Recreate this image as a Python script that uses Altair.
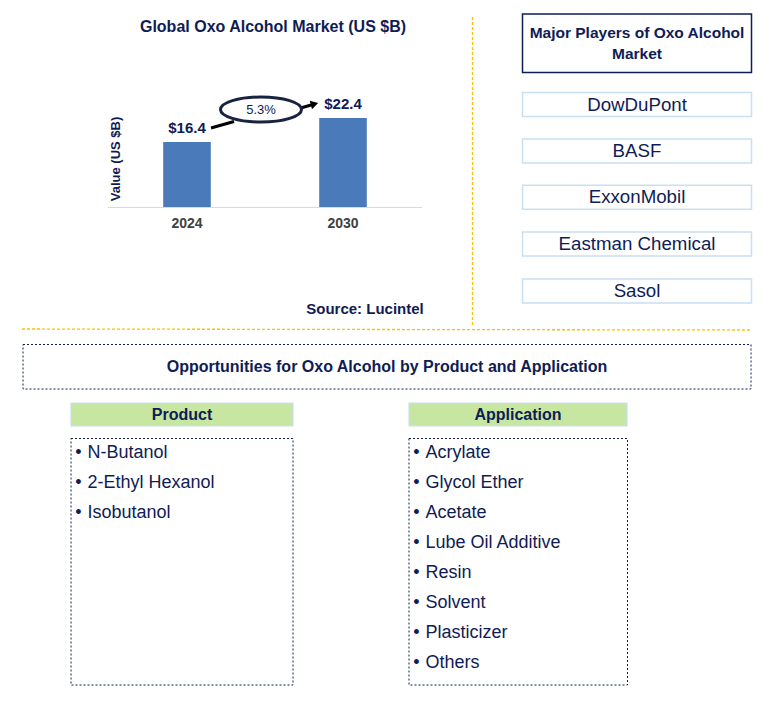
import altair as alt
import pandas as pd

# ---------------- data ----------------
years = ["2024", "2030"]
values = [16.4, 22.4]
value_labels = ["$16.4", "$22.4"]
cagr_label = "5.3%"
chart_title = "Global Oxo Alcohol Market (US $B)"
y_title = "Value (US $B)"
source_text = "Source: Lucintel"
players_title = ["Major Players of Oxo Alcohol", "Market"]
players = ["DowDuPont", "BASF", "ExxonMobil", "Eastman Chemical", "Sasol"]
opp_title = "Opportunities for Oxo Alcohol by Product and Application"
group_titles = ["Product", "Application"]
products = ["N-Butanol", "2-Ethyl Hexanol", "Isobutanol"]
applications = ["Acrylate", "Glycol Ether", "Acetate", "Lube Oil Additive",
                "Resin", "Solvent", "Plasticizer", "Others"]

# ---------------- styles ----------------
FONT = "Liberation Sans"
NAVY = "#0f1c55"
GOLD = "#FFC000"
W, H = 760, 690

# pixel coordinate scales (screen coordinates, page margin 8px)
XS = alt.Scale(domain=[8, 8 + W], range=[0, W], nice=False, zero=False)
YS = alt.Scale(domain=[8, 8 + H], range=[0, H], nice=False, zero=False)


def px(ch, field):
    if ch == "x":
        return alt.X(f"{field}:Q", scale=XS, axis=None)
    if ch == "y":
        return alt.Y(f"{field}:Q", scale=YS, axis=None)
    if ch == "x2":
        return alt.X2(f"{field}:Q")
    return alt.Y2(f"{field}:Q")


def text_layer(df, size, weight="normal", color=NAVY, align="center", **kw):
    return alt.Chart(df).mark_text(
        align=align, baseline="middle", font=FONT, fontSize=size,
        fontWeight=weight, color=color, **kw
    ).encode(x=px("x", "x"), y=px("y", "y"), text="t:N")


def rect_layer(df, **kw):
    return alt.Chart(df).mark_rect(**kw).encode(
        x=px("x", "x"), x2=px("x2", "x2"), y=px("y", "y"), y2=px("y2", "y2"))


def rule_layer(df, **kw):
    return alt.Chart(df).mark_rule(**kw).encode(
        x=px("x", "x"), x2=px("x2", "x2"), y=px("y", "y"), y2=px("y2", "y2"))


layers = []

# separator lines
layers.append(rule_layer(pd.DataFrame({"x": [472.5, 22], "x2": [472.5, 750],
                                       "y": [17, 329], "y2": [325, 330]}),
                         color=GOLD, strokeWidth=1.3, strokeDash=[3, 2]))

# titles
layers.append(text_layer(pd.DataFrame({"x": [273], "y": [27], "t": [chart_title]}), 16, "bold"))
layers.append(text_layer(pd.DataFrame({"x": [365], "y": [308.5], "t": [source_text]}), 15, "bold"))
layers.append(alt.Chart(pd.DataFrame({"x": [116], "y": [159], "t": [y_title]})).mark_text(
    align="center", baseline="middle", font=FONT, fontSize=13, fontWeight="bold",
    color=NAVY, angle=270).encode(x=px("x", "x"), y=px("y", "y"), text="t:N"))

# CAGR arrows + ellipse
layers.append(rule_layer(pd.DataFrame({"x": [211, 299], "x2": [234, 312],
                                       "y": [128, 108.5], "y2": [121.5, 104.8]}),
                         color="black", strokeWidth=3))
layers.append(alt.Chart(pd.DataFrame({"x": [314.5], "y": [104]})).mark_point(
    shape="triangle-right", filled=True, color="black", opacity=1, size=75, angle=345
).encode(x=px("x", "x"), y=px("y", "y")))
k = 0.309
c = 0.5523
ell = (f"M -1 0 C -1 {-k*c:.4f} {-c} {-k} 0 {-k} C {c} {-k} 1 {-k*c:.4f} 1 0 "
       f"C 1 {k*c:.4f} {c} {k} 0 {k} C {-c} {k} -1 {k*c:.4f} -1 0 Z")
layers.append(alt.Chart(pd.DataFrame({"x": [261], "y": [109.5]})).mark_point(
    shape=ell, size=81 * 81, fill="white", fillOpacity=1, stroke="#17233f",
    strokeWidth=3, opacity=1
).encode(x=px("x", "x"), y=px("y", "y")))
layers.append(text_layer(pd.DataFrame({"x": [261], "y": [109.5], "t": [cagr_label]}), 13,
                         "normal"))

# major players
layers.append(rect_layer(pd.DataFrame({"x": [522.5], "x2": [751.5], "y": [14], "y2": [72.5]}),
                         fill="white", stroke=NAVY, strokeWidth=1.5))
layers.append(text_layer(pd.DataFrame({"x": [637, 637], "y": [32.5, 53.5], "t": players_title}),
                         15.5, "bold"))
pc = [104.5, 151, 197.2, 244, 291]
layers.append(rect_layer(pd.DataFrame({"x": [522.5] * 5, "x2": [751.5] * 5,
                                       "y": [v - 12 for v in pc], "y2": [v + 12 for v in pc]}),
                         fillOpacity=0, stroke="#c8e0f4", strokeWidth=1.5))
layers.append(text_layer(pd.DataFrame({"x": [637] * 5, "y": pc, "t": players}), 18.7))

# opportunities
layers.append(rect_layer(pd.DataFrame({"x": [23], "x2": [751], "y": [344.5], "y2": [389]}),
                         fillOpacity=0, stroke=NAVY, strokeWidth=1, strokeDash=[2, 2]))
layers.append(text_layer(pd.DataFrame({"x": [387], "y": [367], "t": [opp_title]}), 16, "bold"))

layers.append(rect_layer(pd.DataFrame({"x": [71, 409], "x2": [293, 627],
                                       "y": [403, 403], "y2": [426, 426]}),
                         fill="#c6e6a1", stroke="#c9e0f2", strokeWidth=1.2))
layers.append(text_layer(pd.DataFrame({"x": [182, 518], "y": [414.5, 414.5], "t": group_titles}),
                         16, "bold"))

layers.append(rect_layer(pd.DataFrame({"x": [71, 409], "x2": [293, 627.5],
                                       "y": [438.5, 438.5], "y2": [685, 685]}),
                         fillOpacity=0, stroke=NAVY, strokeWidth=1, strokeDash=[2, 2]))

list_rows = []
for i, t in enumerate(products):
    list_rows.append({"x": 87.5, "bx": 78.3, "y": 452.5 + 30 * i, "t": t})
for i, t in enumerate(applications):
    list_rows.append({"x": 425.5, "bx": 416.5, "y": 452.5 + 30 * i, "t": t})
list_df = pd.DataFrame(list_rows)
list_df["b"] = "•"
layers.append(text_layer(list_df, 18, align="left"))
layers.append(alt.Chart(list_df).mark_text(
    align="center", baseline="middle", font=FONT, fontSize=18, color=NAVY
).encode(x=px("x", "bx"), y=px("y", "y"), text="b:N"))

decor = alt.layer(*layers)

# ---------------- bar chart ----------------
bar_df = pd.DataFrame({"year": years, "value": values, "label": value_labels})
XB = alt.Scale(domain=years, range=[101, 413], paddingInner=0.695, paddingOuter=0.3475)
YB = alt.Scale(domain=[0, 25], range=[199, 99.75], nice=False)

bx = alt.X("year:N", scale=XB, axis=None)
by = alt.Y("value:Q", scale=YB, axis=None)

baseline = alt.Chart(bar_df).mark_rule(color="#d9d9d9", strokeWidth=1).encode(
    x=alt.value(100), x2=alt.value(414), y=alt.value(199.5))
bars = alt.Chart(bar_df).mark_bar(color="#4a7ab9").encode(x=bx, y=by)
bar_labels = alt.Chart(bar_df).mark_text(
    dy=-14, font=FONT, fontSize=15, fontWeight="bold", color=NAVY, baseline="middle"
).encode(x=bx, y=by, text="label:N")
year_labels = alt.Chart(bar_df).mark_text(
    font=FONT, fontSize=14, fontWeight="bold", color="#404040", baseline="middle"
).encode(x=bx, y=alt.value(215.5), text="year:N")

bar_chart = alt.layer(baseline, bars, bar_labels, year_labels)

chart = alt.layer(decor, bar_chart).resolve_scale(
    x="independent", y="independent"
).properties(
    width=W, height=H, padding=0, autosize=alt.AutoSizeParams(type="none"),
    background="white"
).configure_view(stroke=None)

chart.save("out.html", embed_options={"renderer": "svg", "actions": False})
